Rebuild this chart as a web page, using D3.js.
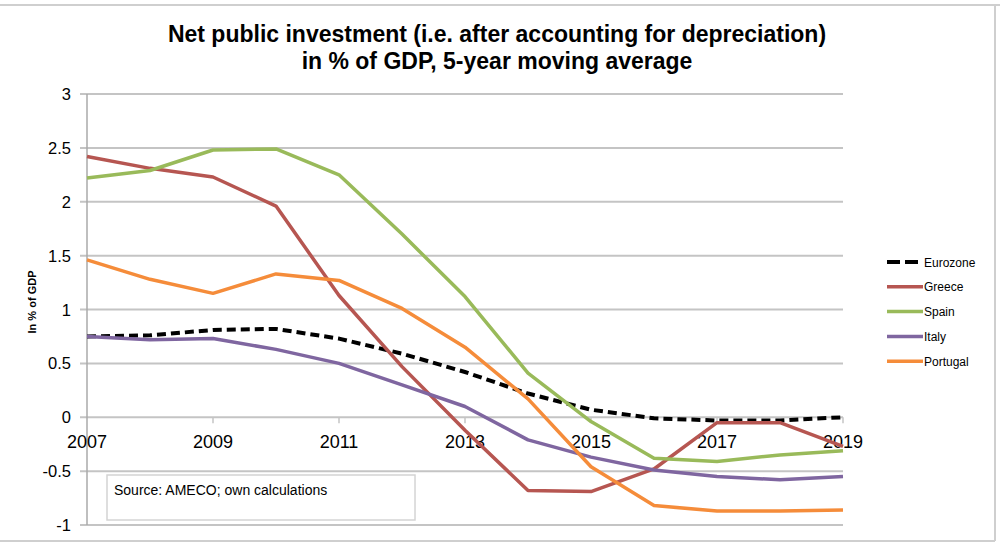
<!DOCTYPE html>
<html>
<head>
<meta charset="utf-8">
<script src="https://cdn.jsdelivr.net/npm/d3@7"></script>
<style>
  body { margin: 0; background: #fff; }
  text { font-family: "Liberation Sans", Arial, Helvetica, sans-serif; }
</style>
</head>
<body>
<div id="chart"></div>
<script>
const W = 1000, H = 546
const MARGIN = {LEFT: 87, RIGHT: 157, TOP: 94, BOTTOM: 21}

// data
const years = [2007, 2008, 2009, 2010, 2011, 2012, 2013, 2014, 2015, 2016, 2017, 2018, 2019]
const eurozone = [0.75, 0.76, 0.81, 0.82, 0.73, 0.59, 0.42, 0.22, 0.07, -0.01, -0.03, -0.03, 0.00]
const greece   = [2.42, 2.31, 2.23, 1.96, 1.13, 0.47, -0.12, -0.68, -0.69, -0.48, -0.05, -0.05, -0.27]
const spain    = [2.22, 2.29, 2.48, 2.49, 2.25, 1.70, 1.12, 0.41, -0.04, -0.38, -0.41, -0.35, -0.31]
const italy    = [0.75, 0.72, 0.73, 0.63, 0.50, 0.30, 0.10, -0.21, -0.37, -0.49, -0.55, -0.58, -0.55]
const portugal = [1.46, 1.28, 1.15, 1.33, 1.27, 1.01, 0.65, 0.17, -0.46, -0.82, -0.87, -0.87, -0.86]
const yTicks = [-1, -0.5, 0, 0.5, 1, 1.5, 2, 2.5, 3]
const xTicks = [2007, 2009, 2011, 2013, 2015, 2017, 2019]

const series = [
  {name: "Eurozone", values: eurozone, color: "#000", dash: "9,5"},
  {name: "Greece", values: greece, color: "#b65651"},
  {name: "Spain", values: spain, color: "#99ba5a"},
  {name: "Italy", values: italy, color: "#7f66a0"},
  {name: "Portugal", values: portugal, color: "#f58c3a"}
]

const svg = d3.select("#chart").append("svg")
    .attr("width", W)
    .attr("height", H)

// sheet frame lines
svg.append("line").attr("x1", 0).attr("x2", W).attr("y1", 5).attr("y2", 5)
    .attr("stroke", "#cfcfcf").attr("stroke-width", 2)
svg.append("line").attr("x1", 995).attr("x2", 995).attr("y1", 5).attr("y2", 541)
    .attr("stroke", "#cfcfcf").attr("stroke-width", 2)
svg.append("line").attr("x1", 0).attr("x2", 995).attr("y1", 541).attr("y2", 541)
    .attr("stroke", "#cfcfcf").attr("stroke-width", 2)

const x = d3.scaleLinear()
    .domain([2007, 2019])
    .range([MARGIN.LEFT, W - MARGIN.RIGHT])
const y = d3.scaleLinear()
    .domain([-1, 3])
    .range([H - MARGIN.BOTTOM, MARGIN.TOP])

// horizontal grid
svg.append("g").selectAll("line")
    .data(yTicks)
    .enter().append("line")
    .attr("x1", MARGIN.LEFT - 7)
    .attr("x2", x(2019))
    .attr("y1", d => y(d))
    .attr("y2", d => y(d))
    .attr("stroke", "#c4c4c4")
    .attr("stroke-width", 2)

// y axis
svg.append("line")
    .attr("x1", MARGIN.LEFT).attr("x2", MARGIN.LEFT)
    .attr("y1", y(3)).attr("y2", y(-1))
    .attr("stroke", "#aaa").attr("stroke-width", 1.5)

svg.append("g").selectAll("text")
    .data(yTicks)
    .enter().append("text")
    .attr("x", 71)
    .attr("y", d => y(d) + 6)
    .attr("text-anchor", "end")
    .attr("font-size", 16.5)
    .text(d => d)

// x axis ticks hang from the zero line
svg.append("g").selectAll("line")
    .data(xTicks.slice(1))
    .enter().append("line")
    .attr("x1", d => x(d)).attr("x2", d => x(d))
    .attr("y1", y(0)).attr("y2", y(0) + 6)
    .attr("stroke", "#c4c4c4").attr("stroke-width", 1.5)

svg.append("g").selectAll("text")
    .data(xTicks)
    .enter().append("text")
    .attr("x", d => x(d))
    .attr("y", y(0) + 31)
    .attr("text-anchor", "middle")
    .attr("font-size", 18)
    .text(d => d)

// source box
svg.append("rect")
    .attr("x", 107).attr("y", 475)
    .attr("width", 308).attr("height", 45)
    .attr("fill", "#fff")
    .attr("stroke", "#d4d4d4").attr("stroke-width", 1.5)
svg.append("text")
    .attr("x", 114).attr("y", 495)
    .attr("font-size", 14)
    .text("Source: AMECO; own calculations")

// lines
const line = d3.line()
    .x((d, i) => x(years[i]))
    .y(d => y(d))

svg.append("g").selectAll("path")
    .data(series)
    .enter().append("path")
    .attr("d", d => line(d.values))
    .attr("fill", "none")
    .attr("stroke", d => d.color)
    .attr("stroke-width", d => d.dash ? 4 : 3.5)
    .attr("stroke-dasharray", d => d.dash || null)
    .attr("stroke-linejoin", "round")

// legend
const legend = svg.append("g").selectAll("g")
    .data(series)
    .enter().append("g")
    .attr("transform", (d, i) => `translate(887, ${262 + i * 24.8})`)
legend.append("line")
    .attr("x1", 0).attr("x2", 36)
    .attr("stroke", d => d.color)
    .attr("stroke-width", d => d.dash ? 4 : 3.5)
    .attr("stroke-dasharray", d => d.dash ? "13,5" : null)
legend.append("text")
    .attr("x", 37).attr("y", 4.5)
    .attr("font-size", 12)
    .text(d => d.name)

// y label
svg.append("text")
    .attr("transform", "translate(36, 302) rotate(-90)")
    .attr("text-anchor", "middle")
    .attr("font-size", 11)
    .attr("font-weight", "bold")
    .text("In % of GDP")

// title
svg.append("text")
    .attr("x", 497).attr("y", 42)
    .attr("text-anchor", "middle")
    .attr("font-size", 23)
    .attr("font-weight", "bold")
    .text("Net public investment (i.e. after accounting for depreciation)")
svg.append("text")
    .attr("x", 497).attr("y", 69)
    .attr("text-anchor", "middle")
    .attr("font-size", 23)
    .attr("font-weight", "bold")
    .text("in % of GDP, 5-year moving average")
</script>
</body>
</html>
